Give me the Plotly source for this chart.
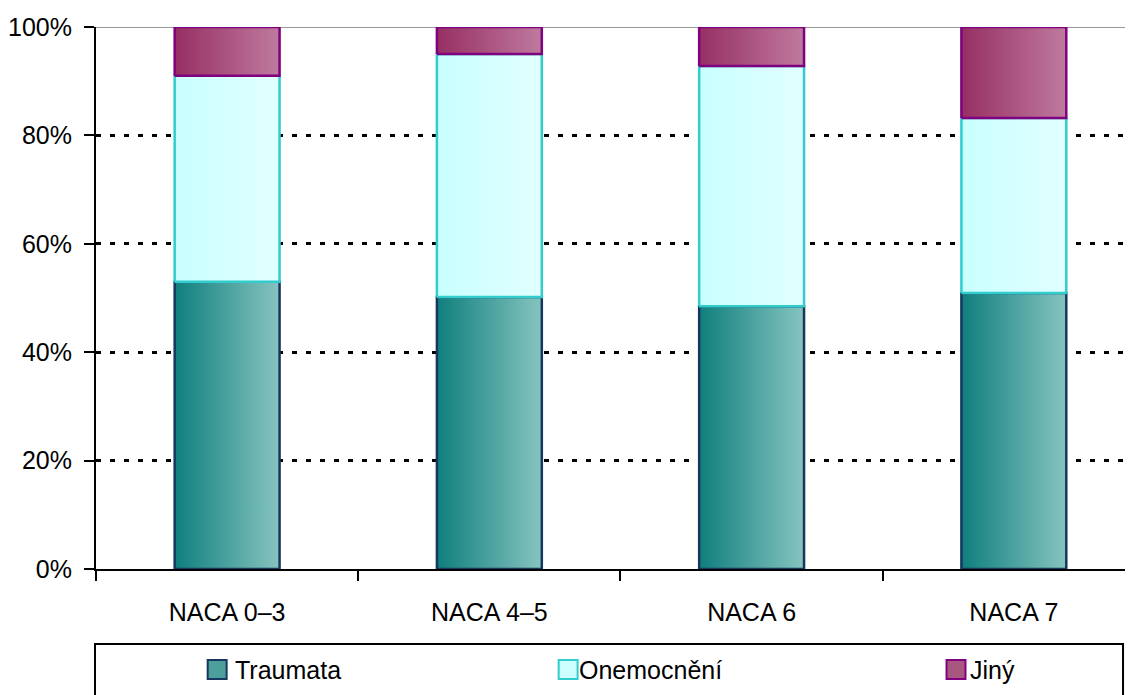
import numpy as np
import plotly.graph_objects as go

# ---- data (percent of each NACA group) ----
categories = ["NACA 0–3", "NACA 4–5", "NACA 6", "NACA 7"]
traumata = [53.0, 50.2, 48.5, 50.9]
onemocneni = [38.0, 44.8, 44.3, 32.3]
jiny = [9.0, 5.0, 7.2, 16.8]
y_ticks = [0, 20, 40, 60, 80, 100]
y_ticktext = [f"{v}%" for v in y_ticks]

series = [
    ("Traumata", traumata, "#0f7f7d", "#86c4c0", "#17375e", "#4d9f9c"),
    ("Onemocnění", onemocneni, "#c8ffff", "#e2ffff", "#33cccc", "#ccffff"),
    ("Jiný", jiny, "#962f63", "#bf7a9e", "#800080", "#a8587f"),
]

FONT = "Liberation Sans, Arial, sans-serif"
FS = 25
bar_w = 0.4

fig = go.Figure()
xs = np.arange(len(categories))
base = np.zeros(len(categories))
for name, vals, c1, c2, line_c, _ in series:
    vals = np.array(vals, dtype=float)
    for i, x in enumerate(xs):
        y0, y1 = base[i], base[i] + vals[i]
        fig.add_trace(go.Scatter(
            x=[x - bar_w / 2, x + bar_w / 2, x + bar_w / 2, x - bar_w / 2, x - bar_w / 2],
            y=[y0, y0, y1, y1, y0],
            mode="lines", fill="toself",
            fillgradient=dict(type="horizontal", colorscale=[[0, c1], [1, c2]]),
            line=dict(color=line_c, width=2.5),
            name=name, showlegend=False, hoverinfo="skip",
        ))
    base = base + vals

# 100% top border line
fig.add_shape(type="line", xref="paper", yref="y", x0=0, x1=1, y0=100, y1=100,
              line=dict(color="#333333", width=1), layer="below")

# page has an 8px body margin; figure coordinates are offset accordingly
OFF = 8
W, H = 1133 - OFF, 695 - OFF
ml, mt, mb = 93 - OFF, 27 - OFF, 126
pw, ph = W - ml, H - mt - mb

def px_x(p):
    return (p - OFF - ml) / pw

def px_y(p):
    return (H - mb - (p - OFF)) / ph

fig.add_shape(type="rect", xref="paper", yref="paper",
              x0=px_x(92), x1=px_x(1123), y0=px_y(644), y1=px_y(720),
              line=dict(color="black", width=2), fillcolor="rgba(0,0,0,0)")
leg_pos = [(205, 230), (557, 575), (946, 968)]
for (name, _, _, _, line_c, mid), (mx, tx) in zip(series, leg_pos):
    fig.add_shape(type="rect", xref="paper", yref="paper",
                  x0=px_x(mx), x1=px_x(mx + 19), y0=px_y(660), y1=px_y(679),
                  line=dict(color=line_c, width=2), fillcolor=mid)
    fig.add_annotation(xref="paper", yref="paper", x=px_x(tx), y=px_y(670),
                       text=name, showarrow=False, xanchor="left", yanchor="middle",
                       font=dict(family=FONT, size=FS, color="black"))

fig.update_layout(
    width=W, height=H,
    margin=dict(l=ml, r=0, t=mt, b=mb, pad=0),
    paper_bgcolor="white", plot_bgcolor="white",
    font=dict(family=FONT, size=FS, color="black"),
    showlegend=False,
    xaxis=dict(
        range=[-0.5, -0.5 + pw / 263.0],
        tickmode="array", tickvals=list(xs), ticktext=categories,
        ticks="outside", ticklen=0, tickwidth=0, ticklabelstandoff=20,
        minor=dict(tickmode="linear", tick0=-0.5, dtick=1, ticks="outside",
                   ticklen=10, tickwidth=2, tickcolor="black", showgrid=False),
        showline=True, linecolor="black", linewidth=2,
        showgrid=False, zeroline=False, fixedrange=True,
    ),
    yaxis=dict(
        range=[0, 100],
        tickmode="array", tickvals=y_ticks, ticktext=y_ticktext,
        ticks="outside", ticklen=10, tickwidth=2, tickcolor="black",
        ticklabelstandoff=7,
        showline=True, linecolor="black", linewidth=2,
        showgrid=True, gridcolor="black", gridwidth=3, griddash="5px,9px",
        zeroline=False, fixedrange=True,
    ),
)

fig.write_html("out.html")
